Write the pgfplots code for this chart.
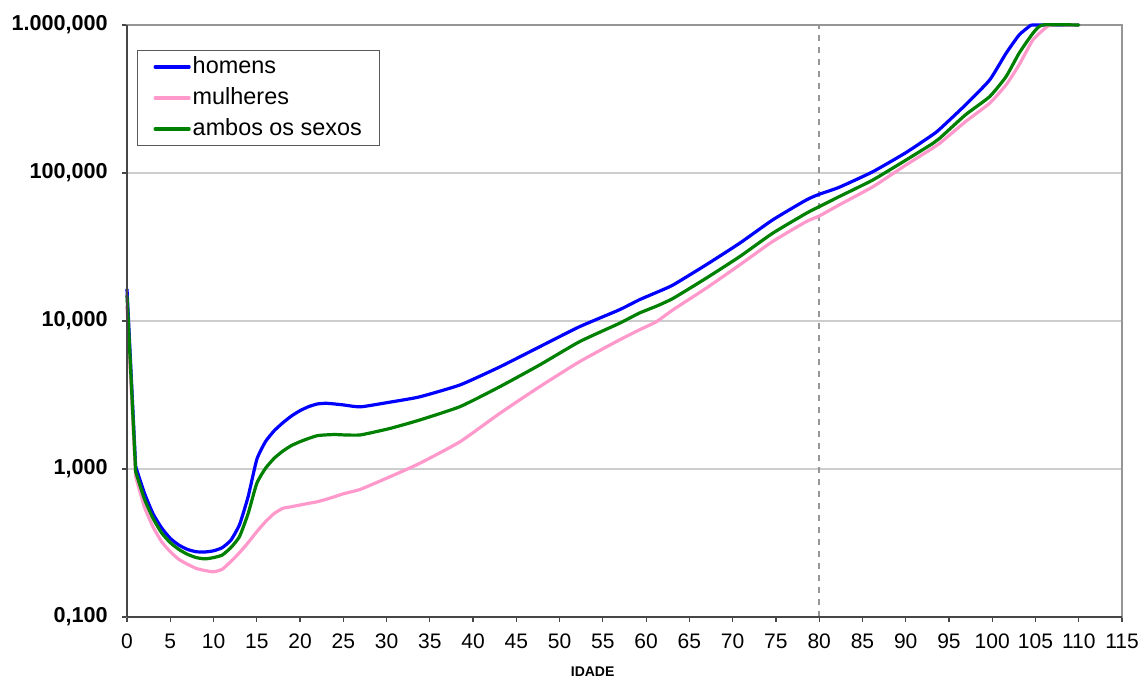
\documentclass[border=0pt]{standalone}
\usepackage{fontspec}
\setmainfont{Liberation Sans}
\usepackage{pgfplots}
\pgfplotsset{compat=1.18}

\definecolor{homem}{RGB}{0,0,255}
\definecolor{mulher}{RGB}{255,153,204}
\definecolor{ambos}{RGB}{0,128,0}
\definecolor{gridgray}{RGB}{205,205,205}
\definecolor{framegray}{RGB}{150,150,150}
\definecolor{axisdark}{RGB}{70,70,70}

\begin{document}
\begin{tikzpicture}
\useasboundingbox (0,0) rectangle (570pt,339.5pt);
\begin{axis}[
  at={(63.5pt,31pt)}, anchor=south west,
  scale only axis, width=497.5pt, height=296pt,
  xmin=0, xmax=115, ymin=0.1, ymax=1000, ymode=log,
  clip=false,
  axis line style={framegray, line width=0.8pt},
  xtick={0,5,...,115},
  ytick={0.1,1,10,100,1000},
  yticklabels={{0,100},{1,000},{10,000},{100,000},{1.000,000}},
  yminorticks=false, xminorticks=false,
  /pgf/number format/assume math mode=true,
  tick align=outside, major tick length=2.5pt,
  tick style={axisdark, line width=0.6pt},
  xtick pos=bottom, ytick pos=left,
  ymajorgrids, grid style={gridgray, line width=0.6pt},
  xticklabel style={font=\fontsize{10.5}{12}\selectfont, yshift=-2.5pt},
  yticklabel style={font=\fontsize{10.8}{12}\selectfont\bfseries, xshift=-3.6pt},
  xlabel={IDADE},
  x label style={at={(axis description cs:0.468,0)}, anchor=center, yshift=-27.5pt, font=\fontsize{7}{8}\selectfont\bfseries},
  legend style={at={(0.01,0.958)}, anchor=north west, draw=black!65, fill=white,
    line width=0.6pt, inner xsep=8pt, inner ysep=3pt, row sep=5pt,
    font=\fontsize{11.7}{13}\selectfont,
    nodes={inner xsep=1pt, inner ysep=0pt, text height=8.5pt, text depth=2pt}},
  legend cell align=left,
  legend image code/.code={\draw[#1] (0pt,0pt) -- (17pt,0pt);},
  every axis plot/.append style={line width=1.6pt, line join=round, line cap=round},
  rest/.style={smooth, tension=0.3},
]
% reference age 80
\draw[framegray, dashed, line width=0.8pt] (axis cs:80,0.1) -- (axis cs:80,1000);

% homens: first year drop, then the remaining ages
\addplot[homem, forget plot] coordinates {(0,16.4)(1,1.04)};
\addplot[homem, rest] coordinates {
(1,1.04)(2,0.69)(3,0.50)(4,0.40)(5,0.34)(6,0.306)(7,0.286)(8,0.276)(9,0.275)
(10,0.28)(11,0.294)(12,0.33)(13,0.42)(14,0.65)(15,1.16)(16,1.53)(17,1.81)(18,2.05)(19,2.28)
(20,2.48)(21,2.64)(22,2.75)(23,2.78)(24,2.75)(25,2.71)(27,2.63)(30.4,2.83)(33.8,3.07)
(38.5,3.70)(43.1,4.9)(47.7,6.7)(52.3,9.15)(56.9,11.9)(59.2,13.9)(61.2,15.6)(63.1,17.5)
(66.9,23.9)(70.8,33.5)(74.6,48.1)(78.5,65.7)(80,71.8)(82.3,80)(86.2,102)(90,137)
(93.1,181)(93.9,197)(96.9,288)(99.7,425)(101.6,644)(103.1,855)(104.3,980)(104.8,1000)(110,1000)
};
\addlegendentry{homens}

% mulheres
\addplot[mulher, forget plot] coordinates {(0,12.5)(1,0.89)};
\addplot[mulher, rest] coordinates {
(1,0.89)(2,0.556)(3,0.407)(4,0.323)(5,0.276)(6,0.245)(7,0.227)(8,0.213)(9,0.206)
(10,0.202)(11,0.21)(12,0.237)(13,0.272)(14,0.318)(15,0.377)(16,0.44)(17,0.50)(18,0.542)(19,0.556)
(20,0.571)(21,0.586)(22,0.601)(23,0.624)(24,0.65)(25,0.68)(27,0.73)(30.4,0.887)(33.8,1.09)
(38.5,1.53)(43.1,2.38)(47.7,3.60)(52.3,5.31)(56.9,7.44)(59.2,8.7)(61.2,9.9)(63.1,11.9)
(66.9,16.6)(70.8,23.9)(74.6,34.4)(78.5,46.9)(80,51.2)(82.3,60.8)(86.2,80.7)(90,113)
(93.1,147)(93.9,158)(96.9,222)(99.7,296)(101.6,394)(103.1,537)(104.7,793)(106.2,960)(106.8,1000)(110,1000)
};
\addlegendentry{mulheres}

% ambos os sexos
\addplot[ambos, forget plot] coordinates {(0,14.8)(1,0.96)};
\addplot[ambos, rest] coordinates {
(1,0.96)(2,0.63)(3,0.465)(4,0.37)(5,0.318)(6,0.286)(7,0.265)(8,0.252)(9,0.247)
(10,0.252)(11,0.262)(12,0.294)(13,0.349)(14,0.50)(15,0.80)(16,1.01)(17,1.18)(18,1.32)(19,1.44)
(20,1.53)(21,1.61)(22,1.68)(23,1.70)(24,1.71)(25,1.70)(27,1.70)(30.4,1.88)(33.8,2.14)
(38.5,2.64)(43.1,3.60)(47.7,5.05)(52.3,7.25)(56.9,9.64)(59.2,11.3)(61.2,12.6)(63.1,14.2)
(66.9,19.4)(70.8,27.2)(74.6,39.1)(78.5,53.4)(80,59.2)(82.3,69.2)(86.2,89.7)(90,122)
(93.1,158)(93.9,171)(96.9,247)(99.7,328)(101.6,448)(103.1,644)(104.7,879)(105.8,1000)(110,1000)
};
\addlegendentry{ambos os sexos}

% darker left and bottom axis lines
\draw[axisdark, line width=0.8pt] (rel axis cs:0,0) -- (rel axis cs:0,1);
\draw[axisdark, line width=0.8pt] (rel axis cs:0,0) -- (rel axis cs:1,0);
\end{axis}
\end{tikzpicture}
\end{document}
